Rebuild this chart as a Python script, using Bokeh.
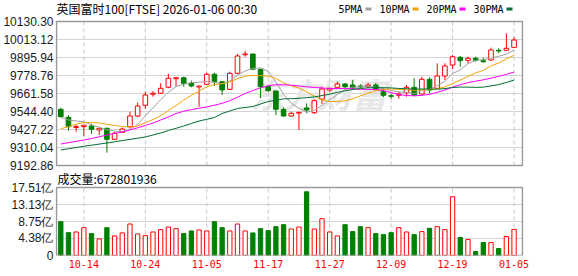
from bokeh.plotting import figure
from bokeh.models import (FixedTicker, Label, BoxAnnotation, ColumnDataSource, Range1d)
from bokeh.embed import file_html
from bokeh.resources import INLINE

# ---------------- data ----------------
dates = ["10-09", "10-10", "10-13", "10-14", "10-15", "10-16", "10-17", "10-20", "10-21", "10-22",
         "10-23", "10-24", "10-27", "10-28", "10-29", "10-30", "10-31", "11-03", "11-04", "11-05",
         "11-06", "11-07", "11-10", "11-11", "11-12", "11-13", "11-14", "11-17", "11-18", "11-19",
         "11-20", "11-21", "11-24", "11-25", "11-26", "11-27", "11-28", "12-01", "12-02", "12-03",
         "12-04", "12-05", "12-08", "12-09", "12-10", "12-11", "12-12", "12-15", "12-16", "12-17",
         "12-18", "12-19", "12-22", "12-23", "12-24", "12-29", "12-30", "12-31", "01-02", "01-05"]

opens = [9558.7, 9506.6, 9440.0, 9446.0, 9450.0, 9424.0, 9435.0, 9363.4, 9409.0, 9445.4,
         9515.1, 9584.8, 9656.4, 9662.9, 9701.9, 9757.9, 9764.4, 9728.0, 9704.0, 9721.5,
         9786.6, 9738.4, 9688.9, 9793.1, 9914.0, 9918.7, 9819.1, 9705.8, 9677.9, 9558.7,
         9515.1, 9534.0, 9567.2, 9536.6, 9625.0, 9684.4, 9701.9, 9723.4, 9716.9, 9710.4,
         9707.0, 9716.9, 9673.3, 9647.3, 9650.0, 9666.8, 9701.9, 9658.3, 9754.0, 9695.4,
         9775.5, 9847.1, 9897.2, 9877.7, 9890.7, 9875.1, 9879.7, 9942.8, 9942.8, 9962.3]
highs = [9569.1, 9521.6, 9456.5, 9457.0, 9465.0, 9436.0, 9439.0, 9413.0, 9439.0, 9543.1,
         9601.7, 9673.3, 9678.0, 9728.0, 9788.5, 9764.4, 9770.9, 9744.9, 9711.0, 9797.0,
         9797.0, 9740.0, 9803.5, 9918.7, 9938.2, 9920.0, 9821.0, 9710.4, 9679.0, 9572.0,
         9543.1, 9539.2, 9597.8, 9623.8, 9707.0, 9699.0, 9738.4, 9732.0, 9749.5, 9722.0,
         9730.0, 9730.0, 9695.4, 9658.3, 9673.3, 9716.9, 9760.5, 9770.9, 9767.0, 9858.2,
         9858.2, 9912.2, 9905.7, 9901.1, 9901.1, 9894.0, 9959.7, 9955.8, 10053.5, 10027.4]
lows = [9506.6, 9419.4, 9412.9, 9385.0, 9399.0, 9391.4, 9276.2, 9359.0, 9409.0, 9435.0,
        9506.6, 9562.6, 9640.7, 9658.3, 9695.4, 9705.8, 9705.8, 9701.9, 9575.0, 9717.0,
        9710.4, 9651.8, 9684.4, 9788.5, 9901.1, 9814.6, 9630.3, 9673.3, 9521.6, 9510.5,
        9510.5, 9424.0, 9532.7, 9528.0, 9593.2, 9673.3, 9700.0, 9695.4, 9688.9, 9697.0,
        9697.0, 9679.8, 9636.8, 9627.7, 9627.7, 9640.7, 9645.3, 9651.8, 9662.9, 9695.4,
        9749.5, 9821.1, 9836.0, 9858.2, 9868.6, 9862.0, 9873.2, 9923.3, 9942.8, 9962.3]
closes = [9510.5, 9445.4, 9446.0, 9455.0, 9428.5, 9435.0, 9363.4, 9402.5, 9430.5, 9515.1,
          9580.2, 9651.8, 9662.9, 9695.4, 9760.5, 9764.4, 9728.0, 9710.4, 9710.4, 9786.6,
          9738.4, 9684.4, 9793.1, 9905.7, 9918.7, 9819.1, 9705.8, 9679.8, 9558.7, 9515.1,
          9532.7, 9539.2, 9554.2, 9614.7, 9691.0, 9695.4, 9723.4, 9705.8, 9697.0, 9704.0,
          9716.9, 9688.9, 9650.0, 9643.0, 9658.3, 9701.9, 9651.8, 9754.0, 9684.4, 9775.5,
          9840.6, 9901.1, 9875.1, 9890.7, 9877.7, 9868.6, 9944.8, 9938.2, 9955.8, 10009.9]

# volume in 亿 (1e8 shares)
volumes = [8.71, 5.89, 6.06, 7.17, 5.64, 4.27, 7.17, 5.04, 5.81, 8.11,
           5.55, 5.12, 6.06, 6.66, 7.34, 6.92, 5.64, 6.32, 6.58, 6.32,
           8.71, 7.17, 6.32, 8.11, 6.32, 5.81, 6.92, 6.41, 7.43, 7.94,
           6.83, 7.34, 16.40, 6.83, 9.48, 6.06, 5.04, 7.94, 6.15, 7.43,
           7.17, 5.64, 5.38, 5.89, 7.17, 6.06, 5.38, 6.15, 7.00, 7.43,
           6.66, 15.12, 4.61, 4.10, 1.02, 3.33, 3.33, 1.79, 4.87, 6.72801936]

ma5_head = [9506.6, 9489.1, 9482.6, 9478.0]
ma10_head = [9431.8, 9446.7, 9461.1, 9472.8, 9472.8, 9469.5, 9461.1, 9453.3, 9446.7]
ma20_head = [9332.8, 9341.3, 9350.4, 9358.9, 9368.6, 9379.7, 9391.4, 9401.2, 9410.9, 9424.0,
             9438.3, 9453.3, 9469.5, 9489.1, 9508.6, 9531.4, 9546.4, 9556.8, 9565.9]
ma30_head = [9293.8, 9301.6, 9310.0, 9317.9, 9325.0, 9332.2, 9339.3, 9347.1, 9355.0, 9362.8,
             9370.6, 9378.4, 9391.4, 9404.4, 9420.7, 9435.0, 9450.0, 9466.3, 9482.6, 9493.6,
             9505.3, 9531.4, 9547.7, 9563.9, 9570.4, 9576.9, 9593.2, 9609.5, 9617.3]

price_ticks = [9192.86, 9310.04, 9427.22, 9544.40, 9661.58, 9778.76, 9895.94, 10013.12, 10130.30]
vol_ticks = [0, 4.38, 8.75, 13.13, 17.51]
date_ticks = ["10-14", "10-24", "11-05", "11-17", "11-27", "12-09", "12-19", "01-05"]

title_text = "英国富时100[FTSE] 2026-01-06 00:30"
vol_title = "成交量"
watermark = "东方财富"
ma_names = ["5PMA", "10PMA", "20PMA", "30PMA"]
ma_colors = ["#a0a0a0", "#f5a300", "#ff00ff", "#006e32"]

RED = "#ff0000"
GREEN = "#008000"
BORDER = "#9a9a9a"
GRID = "#d4d4d4"


def moving_average(vals, n, head):
    out = list(head)
    for i in range(len(head), len(vals)):
        out.append(sum(vals[i - n + 1:i + 1]) / n)
    return out


mas = [moving_average(closes, 5, ma5_head), moving_average(closes, 10, ma10_head),
       moving_average(closes, 20, ma20_head), moving_average(closes, 30, ma30_head)]

xs = list(range(len(dates)))
up = [c >= o for o, c in zip(opens, closes)]
src = ColumnDataSource(dict(
    x=xs, open=opens, close=closes, high=highs, low=lows,
    top=[max(o, c) for o, c in zip(opens, closes)],
    bottom=[min(o, c) for o, c in zip(opens, closes)],
    color=[RED if u else GREEN for u in up],
    fill=["#ffffff" if u else GREEN for u in up],
    vol=volumes,
))
tick_idx = [dates.index(d) for d in date_ticks]

# ---------------- layout geometry (pixels) ----------------
W, H = 578, 276
FRAME_L, FRAME_R = 55, 523          # frame 1px wider than the chart boxes
BOX_L, BOX_R = 56, 522              # chart box edges
PRICE_TOP, PRICE_BOT = 21, 165      # price box
VOL_TOP, VOL_BOT = 187, 255         # volume box (frame bottom)

ppu = (BOX_R - BOX_L) / 60.66       # pixels per bar slot
x_box0 = -0.56
x_box1 = x_box0 + (BOX_R - BOX_L) / ppu
x_range = Range1d(x_box0 - (BOX_L - FRAME_L) / ppu, x_box1 + (FRAME_R - BOX_R) / ppu)

p_lo, p_hi = price_ticks[0], price_ticks[-1]
ppx = (p_hi - p_lo) / (PRICE_BOT - PRICE_TOP)
y_range = Range1d(p_hi - (VOL_BOT - PRICE_TOP) * ppx, p_hi + PRICE_TOP * ppx)

v_lo, v_hi = vol_ticks[0], vol_ticks[-1]
vpx = (v_hi - v_lo) / (VOL_BOT - VOL_TOP)
vol_range = Range1d(v_lo, v_lo + VOL_BOT * vpx)

p = figure(width=W, height=H, x_range=x_range, y_range=y_range,
           output_backend="svg", toolbar_location=None,
           min_border_left=FRAME_L, min_border_right=W - FRAME_R,
           min_border_top=0, min_border_bottom=H - VOL_BOT)
p.extra_y_ranges = {"vol": vol_range}
p.background_fill_color = "#ffffff"
p.border_fill_color = "#ffffff"
p.outline_line_color = None
p.xgrid.grid_line_color = None

# combined left axis: price ticks + volume ticks expressed on the price scale
vol_tick_pos = [y_range.start + (t - vol_range.start) / vpx * ppx for t in vol_ticks]
all_ticks = price_ticks + vol_tick_pos
labels = {t: f"{t:.2f}" for t in price_ticks}
for pos, t in zip(vol_tick_pos, vol_ticks):
    labels[pos] = "0" if t == 0 else f"{t:.2f}亿"
p.yaxis.ticker = FixedTicker(ticks=all_ticks)
p.yaxis.major_label_overrides = labels
p.yaxis.axis_line_color = None
p.yaxis.major_tick_line_color = None
p.yaxis.minor_tick_line_color = None
p.yaxis.major_tick_out = 0
p.yaxis.major_tick_in = 0
p.yaxis.major_label_standoff = 2
p.yaxis.major_label_text_font = "Liberation Sans"
p.yaxis.major_label_text_font_size = "12px"
p.yaxis.major_label_text_color = "#1a1a1a"
p.ygrid.grid_line_color = GRID
p.ygrid.grid_line_width = 1

p.xaxis.ticker = FixedTicker(ticks=tick_idx)
p.xaxis.major_label_overrides = {i: dates[i] for i in tick_idx}
p.xaxis.axis_line_color = None
p.xaxis.major_tick_line_color = None
p.xaxis.minor_tick_line_color = None
p.xaxis.major_tick_out = 0
p.xaxis.major_tick_in = 0
p.xaxis.major_label_standoff = 4
p.xaxis.major_label_text_font = "DejaVu Sans Mono"
p.xaxis.major_label_text_font_size = "10px"
p.xaxis.major_label_text_color = RED

# watermark
p.add_layout(Label(x=250 - FRAME_L, y=VOL_BOT - 93, x_units="screen", y_units="screen",
                   text=watermark, text_font="Noto Sans CJK SC", text_font_size="34px",
                   text_font_style="bold italic", text_color="#e7e7e7",
                   text_baseline="middle", level="underlay"))

# vertical dashed grid lines, one set per box
p.segment(x0=tick_idx, x1=tick_idx, y0=[p_lo] * len(tick_idx), y1=[p_hi] * len(tick_idx),
          line_color="#c8c8c8", line_dash="4 3", line_width=1)
p.segment(x0=tick_idx, x1=tick_idx, y0=[v_lo] * len(tick_idx), y1=[v_hi] * len(tick_idx),
          line_color="#c8c8c8", line_dash="4 3", line_width=1, y_range_name="vol")

# candles
p.segment(x0="x", y0="high", x1="x", y1="low", line_color="color", line_width=1, source=src)
p.vbar(x="x", width=0.6, top="top", bottom="bottom", fill_color="fill", line_color="color",
       line_width=1, source=src)
for m, c in zip(mas, ma_colors):
    p.line(xs, m, line_color=c, line_width=1)

# volume bars
p.vbar(x="x", width=0.56, top="vol", bottom=0, fill_color="fill", line_color="color",
       line_width=1, source=src, y_range_name="vol")

# box borders
p.quad(left=[x_box0], right=[x_box1], bottom=[p_lo], top=[p_hi], fill_alpha=0,
       line_color=BORDER, line_width=1.5)
p.quad(left=[x_box0], right=[x_box1], bottom=[v_lo], top=[v_hi], fill_alpha=0,
       line_color=BORDER, line_width=1.5, y_range_name="vol")

# title + MA legend above the price box
p.add_layout(Label(x=BOX_L - FRAME_L, y=VOL_BOT - 8, x_units="screen", y_units="screen",
                   text=title_text, text_font="Noto Sans CJK SC", text_font_size="12px",
                   text_color="#000000", text_baseline="middle"))
lx = 338
for name, c in zip(ma_names, ma_colors):
    p.add_layout(Label(x=lx - FRAME_L, y=VOL_BOT - 8.5, x_units="screen", y_units="screen",
                       text=name, text_font="DejaVu Sans Mono", text_font_size="10px",
                       text_color="#000000", text_baseline="middle"))
    sx = lx + 6 * len(name) + 3
    p.add_layout(BoxAnnotation(left=sx - FRAME_L, right=sx + 6 - FRAME_L,
                               bottom=VOL_BOT - 10, top=VOL_BOT - 7,
                               left_units="screen", right_units="screen",
                               bottom_units="screen", top_units="screen",
                               fill_color=c, fill_alpha=1.0, line_color=None))
    lx = sx + 6 + 8

# volume header
p.add_layout(Label(x=BOX_L - FRAME_L + 1, y=VOL_BOT - 178, x_units="screen", y_units="screen",
                   text=f"{vol_title}:{round(volumes[-1] * 1e8)}",
                   text_font="Noto Sans CJK SC", text_font_size="12px", text_color="#000000",
                   text_baseline="middle"))

open("out.html", "w").write(file_html(p, INLINE))
